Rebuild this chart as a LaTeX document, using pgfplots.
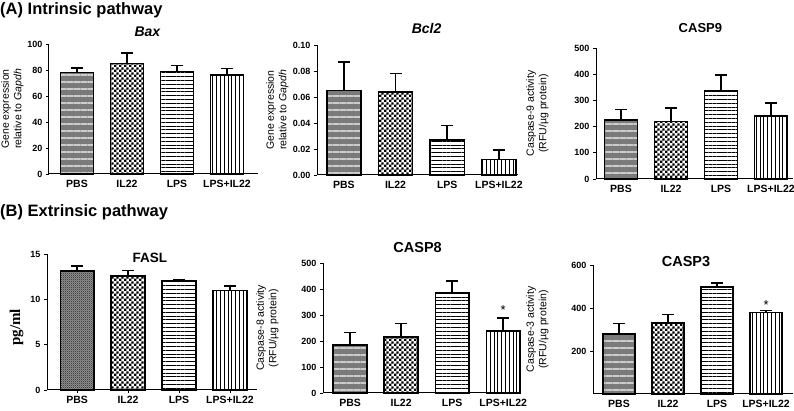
\documentclass[border=0pt]{standalone}
\usepackage{pgfplots}
\pgfplotsset{compat=1.18}
\usepackage{fontspec}
\setmainfont{Liberation Sans}
\newfontfamily\timesfont{Liberation Serif}
\usetikzlibrary{patterns,patterns.meta}

\tikzdeclarepattern{
  name=bigchecker,
  type=uncolored,
  bottom left={(0pt,0pt)}, top right={(5.2pt,5.2pt)}, tile size={(5.2pt,5.2pt)},
  code={\pgfpathrectangle{\pgfqpoint{0pt}{0pt}}{\pgfqpoint{2.65pt}{2.65pt}}
        \pgfpathrectangle{\pgfqpoint{2.6pt}{2.6pt}}{\pgfqpoint{2.65pt}{2.65pt}}
        \pgfusepath{fill}}
}
\tikzdeclarepattern{
  name=smallchecker,
  type=uncolored,
  bottom left={(0pt,0pt)}, top right={(2.2pt,2.2pt)}, tile size={(2.2pt,2.2pt)},
  code={\pgfpathrectangle{\pgfqpoint{0pt}{0pt}}{\pgfqpoint{1.15pt}{1.15pt}}
        \pgfpathrectangle{\pgfqpoint{1.1pt}{1.1pt}}{\pgfqpoint{1.15pt}{1.15pt}}
        \pgfusepath{fill}}
}
\tikzset{ttl/.style={anchor=base, inner sep=0pt, font=\bfseries\fontsize{13}{15}\selectfont}}

\pgfplotsset{
 panel/.style={scale only axis, axis lines*=left, axis line style={line width=1pt},
   clip=false,
   ymin=0, xtick={0,1,2,3}, xticklabels={PBS,IL22,LPS,LPS+IL22},
   x tick label style={font=\bfseries\fontsize{10.5}{12}\selectfont},
   y tick label style={font=\bfseries\fontsize{9}{10}\selectfont},
   x tick style={draw=none}, y tick style={line width=0.8pt, black},
   tick align=outside, major tick length=3pt,
   /pgf/number format/assume math mode=true,
   ylabel style={align=center, font=\fontsize{10.5}{12.5}\selectfont, anchor=south},
   anchor=south west},
 bb/.style={ybar, bar shift=0pt, bar width=0.66, draw=black, line width=1.5pt,
   /pgfplots/error bars/y dir=plus, /pgfplots/error bars/y explicit,
   /pgfplots/error bars/error bar style={line width=1.6pt, black},
   /pgfplots/error bars/error mark options={rotate=90, mark size=6pt, line width=1.6pt, black}},
 pbs/.style={bb, fill=black!52, postaction={pattern={Lines[angle=0,distance=7pt,line width=1.1pt]}, pattern color=white!80!black}},
 pbsplain/.style={bb, fill=black!42, postaction={pattern=smallchecker, pattern color=black!75}},
 il/.style={bb, pattern=bigchecker, pattern color=black},
 lps/.style={bb, pattern={Lines[angle=0,distance=3.8pt,line width=0.7pt]}, pattern color=black},
 lpsil/.style={bb, pattern={Lines[angle=90,distance=3.8pt,line width=0.7pt]}, pattern color=black},
}

\begin{document}
\begin{tikzpicture}
\useasboundingbox (0,0) rectangle (794pt,411pt);
\node[anchor=base west, font=\bfseries\fontsize{16.5}{18}\selectfont, inner sep=0pt] at (0pt,396pt) {(A) Intrinsic pathway};
\node[anchor=base west, font=\bfseries\fontsize{16.5}{18}\selectfont, inner sep=0pt] at (0pt,194pt) {(B) Extrinsic pathway};

% Bax
\begin{axis}[panel, at={(49pt,237pt)}, width=209pt, height=130pt,
  xmin=-0.56, xmax=3.62, ymax=100, ytick={0,20,40,60,80,100},
  ylabel={Gene expression\\relative to \textit{Gapdh}},
  ylabel style={at={(axis description cs:-0.105,0.5)}}]
\addplot[pbs] coordinates {(0,78) +- (0,3.5)};
\addplot[il] coordinates {(1,85) +- (0,8)};
\addplot[lps] coordinates {(2,79) +- (0,4.5)};
\addplot[lpsil] coordinates {(3,76) +- (0,5)};
\node[ttl, font=\bfseries\itshape\fontsize{14}{15}\selectfont] at (axis description cs:0.471,1.054) {Bax};
\end{axis}

% Bcl2
\begin{axis}[panel, at={(317pt,236pt)}, width=201pt, height=130pt,
  xmin=-0.52, xmax=3.37, ymax=0.1, ytick={0,0.02,0.04,0.06,0.08,0.1},
  yticklabel style={/pgf/number format/.cd, fixed, fixed zerofill, precision=2},
  scaled y ticks=false,
  ylabel={Gene expression\\relative to \textit{Gapdh}},
  ylabel style={at={(axis description cs:-0.124,0.5)}}]
\addplot[pbs] coordinates {(0,0.065) +- (0,0.022)};
\addplot[il] coordinates {(1,0.064) +- (0,0.014)};
\addplot[lps] coordinates {(2,0.027) +- (0,0.011)};
\addplot[lpsil] coordinates {(3,0.012) +- (0,0.007)};
\node[ttl, font=\bfseries\itshape\fontsize{14}{15}\selectfont] at (axis description cs:0.545,1.085) {Bcl2};
\end{axis}

% CASP9
\begin{axis}[panel, at={(596pt,232pt)}, width=197pt, height=131pt,
  xmin=-0.5, xmax=3.44, ymax=500, ytick={0,100,200,300,400,500},
  ylabel={Caspase-9 activity\\(RFU/\textmu g protein)},
  ylabel style={at={(axis description cs:-0.223,0.5)}}]
\addplot[pbs] coordinates {(0,225) +- (0,40)};
\addplot[il] coordinates {(1,220) +- (0,50)};
\addplot[lps] coordinates {(2,335) +- (0,63)};
\addplot[lpsil] coordinates {(3,240) +- (0,50)};
\node[ttl] at (axis description cs:0.53,1.115) {CASP9};
\end{axis}

% FASL
\begin{axis}[panel, at={(47pt,21pt)}, width=210pt, height=136pt,
  xmin=-0.59, xmax=3.53, ymax=15, ytick={0,5,10,15},
  major x tick style={draw=black, line width=0.8pt}, x tick style={draw=black, line width=0.8pt},
  ylabel={\timesfont\bfseries pg/ml},
  ylabel style={at={(axis description cs:-0.095,0.46)}, font=\fontsize{15}{16}\selectfont}]
\addplot[pbsplain] coordinates {(0,13.1) +- (0,0.6)};
\addplot[il] coordinates {(1,12.6) +- (0,0.6)};
\addplot[lps] coordinates {(2,12.0) +- (0,0.15)};
\addplot[lpsil] coordinates {(3,11.0) +- (0,0.5)};
\node[ttl, font=\bfseries\fontsize{13.5}{15}\selectfont] at (axis description cs:0.49,0.941) {FASL};
\end{axis}

% CASP8
\begin{axis}[panel, at={(323pt,18pt)}, width=197pt, height=130pt,
  xmin=-0.53, xmax=3.33, ymax=500, ytick={0,100,200,300,400,500},
  ylabel={Caspase-8 activity\\(RFU/\textmu g protein)},
  ylabel style={at={(axis description cs:-0.208,0.5)}}]
\addplot[pbs] coordinates {(0,185) +- (0,48)};
\addplot[il] coordinates {(1,215) +- (0,52)};
\addplot[lps] coordinates {(2,385) +- (0,45)};
\addplot[lpsil] coordinates {(3,238) +- (0,50)};
\node[font=\fontsize{13}{13}\selectfont] at (axis cs:3,318) {*};
\node[ttl, font=\bfseries\fontsize{14.5}{16}\selectfont] at (axis description cs:0.48,1.077) {CASP8};
\end{axis}

% CASP3
\begin{axis}[panel, at={(593pt,17pt)}, width=200pt, height=129pt,
  xmin=-0.53, xmax=3.55, ymax=600, ytick={200,400,600},
  ylabel={Caspase-3 activity\\(RFU/\textmu g protein)},
  ylabel style={at={(axis description cs:-0.205,0.5)}}]
\addplot[pbs] coordinates {(0,280) +- (0,48)};
\addplot[il] coordinates {(1,330) +- (0,40)};
\addplot[lps] coordinates {(2,497) +- (0,18)};
\addplot[lpsil] coordinates {(3,378) +- (0,10)};
\node[font=\fontsize{13}{13}\selectfont] at (axis cs:3,412) {*};
\node[ttl, font=\bfseries\fontsize{14.5}{16}\selectfont] at (axis description cs:0.465,0.99) {CASP3};
\end{axis}
\end{tikzpicture}
\end{document}
